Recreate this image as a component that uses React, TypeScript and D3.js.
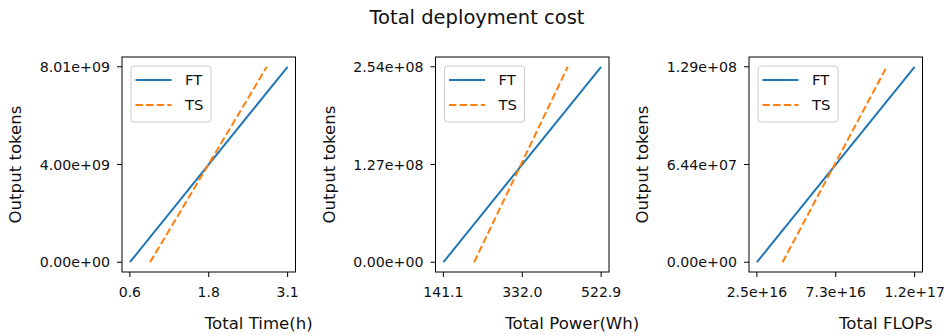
import React from "react";
import * as d3 from "d3";

// x values (cost) for each method, start and end of each line
const timeFT = [0.6, 3.1];
const timeTS = [0.92, 2.77];
const powerFT = [141.1, 522.9];
const powerTS = [215.5, 442.2];
const flopsFT = [2.5e16, 1.21e17];
const flopsTS = [4.06e16, 1.04e17];

// output tokens at start and end of each line
const tokensTime = [0, 8.01e9];
const tokensPower = [0, 2.54e8];
const tokensFlops = [0, 1.29e8];

const xTickLabels = [
  ["0.6", "1.8", "3.1"],
  ["141.1", "332.0", "522.9"],
  ["2.5e+16", "7.3e+16", "1.2e+17"],
];
const yTickLabels = [
  ["0.00e+00", "4.00e+09", "8.01e+09"],
  ["0.00e+00", "1.27e+08", "2.54e+08"],
  ["0.00e+00", "6.44e+07", "1.29e+08"],
];
const xLabels = ["Total Time(h)", "Total Power(Wh)", "Total FLOPs"];
const seriesNames = ["FT", "TS"];

const panels = [
  { ft: timeFT, ts: timeTS, tokens: tokensTime },
  { ft: powerFT, ts: powerTS, tokens: tokensPower },
  { ft: flopsFT, ts: flopsTS, tokens: tokensFlops },
];

const W = 944;
const H = 335;
const top = 57;
const bottom = 272;
const firstLeft = 122;
const step = 313.5;
const panelW = 173.5;
const font = "DejaVu Sans, sans-serif";
const colors = { FT: "#1f77b4", TS: "#ff7f0e" };
const ink = "#111";

function pad(lo: number, hi: number) {
  const r = hi - lo;
  return [lo - r * 0.05, hi + r * 0.05];
}

function Panel({ idx }: { idx: number }) {
  const p = panels[idx];
  const left = firstLeft + idx * step;
  const right = left + panelW;

  const xMin = d3.min([...p.ft, ...p.ts]) as number;
  const xMax = d3.max([...p.ft, ...p.ts]) as number;
  const yMax = d3.max(p.tokens) as number;

  const x = d3.scaleLinear().domain(pad(xMin, xMax)).range([left, right]);
  const y = d3.scaleLinear().domain(pad(0, yMax)).range([bottom, top]);

  const xTicks = [xMin, (xMin + xMax) / 2, xMax];
  const yTicks = [0, yMax / 2, yMax];

  const line = d3
    .line<[number, number]>()
    .x((d) => x(d[0]))
    .y((d) => y(d[1]));

  const ftPts = p.ft.map((v, i) => [v, p.tokens[i]] as [number, number]);
  const tsPts = p.ts.map((v, i) => [v, p.tokens[i]] as [number, number]);

  const legX = left + 9;
  const legY = top + 9;

  return (
    <g>
      <path d={line(ftPts) ?? ""} fill="none" stroke={colors.FT} strokeWidth={2} />
      <path
        d={line(tsPts) ?? ""}
        fill="none"
        stroke={colors.TS}
        strokeWidth={2}
        strokeDasharray="7.4,3.2"
      />

      <rect x={left} y={top} width={panelW} height={bottom - top} fill="none" stroke="#000" strokeWidth={1} />

      {xTicks.map((t, i) => (
        <g key={"x" + i}>
          <line x1={x(t)} x2={x(t)} y1={bottom} y2={bottom + 5} stroke="#000" strokeWidth={1} />
          <text x={x(t)} y={296.5} textAnchor="middle" fontSize={14} fill={ink}>
            {xTickLabels[idx][i]}
          </text>
        </g>
      ))}
      {yTicks.map((t, i) => (
        <g key={"y" + i}>
          <line x1={left - 5} x2={left} y1={y(t)} y2={y(t)} stroke="#000" strokeWidth={1} />
          <text x={left - 12} y={y(t)} dy="0.36em" textAnchor="end" fontSize={14.2} fill={ink}>
            {yTickLabels[idx][i]}
          </text>
        </g>
      ))}

      <text x={(left + right) / 2 + 50} y={329} textAnchor="middle" fontSize={16.6} fill={ink}>
        {xLabels[idx]}
      </text>
      <text
        transform={`translate(${left - 101},${(top + bottom) / 2}) rotate(-90)`}
        textAnchor="middle"
        fontSize={16.6}
        fill={ink}
      >
        Output tokens
      </text>

      <rect
        x={legX}
        y={legY}
        width={80}
        height={56}
        rx={3}
        fill="#fff"
        fillOpacity={0.8}
        stroke="#cccccc"
        strokeWidth={1}
      />
      {seriesNames.map((s, i) => (
        <g key={s}>
          <line
            x1={legX + 4.5}
            x2={legX + 40.5}
            y1={legY + 14 + i * 25}
            y2={legY + 14 + i * 25}
            stroke={colors[s as "FT" | "TS"]}
            strokeWidth={2}
            strokeDasharray={s === "TS" ? "7.4,3.2" : undefined}
          />
          <text x={legX + 54} y={legY + 14 + i * 25} dy="0.36em" fontSize={14.8} fill={ink}>
            {s}
          </text>
        </g>
      ))}
    </g>
  );
}

export default function App() {
  return (
    <div>
      <style>{`body{margin:0}`}</style>
      <svg width={W} height={H} style={{ display: "block", fontFamily: font }}>
        <rect width={W} height={H} fill="#fff" />
        <text x={477} y={24} textAnchor="middle" fontSize={19.5} fill={ink}>
          Total deployment cost
        </text>
        {panels.map((_, i) => (
          <Panel key={i} idx={i} />
        ))}
      </svg>
    </div>
  );
}
